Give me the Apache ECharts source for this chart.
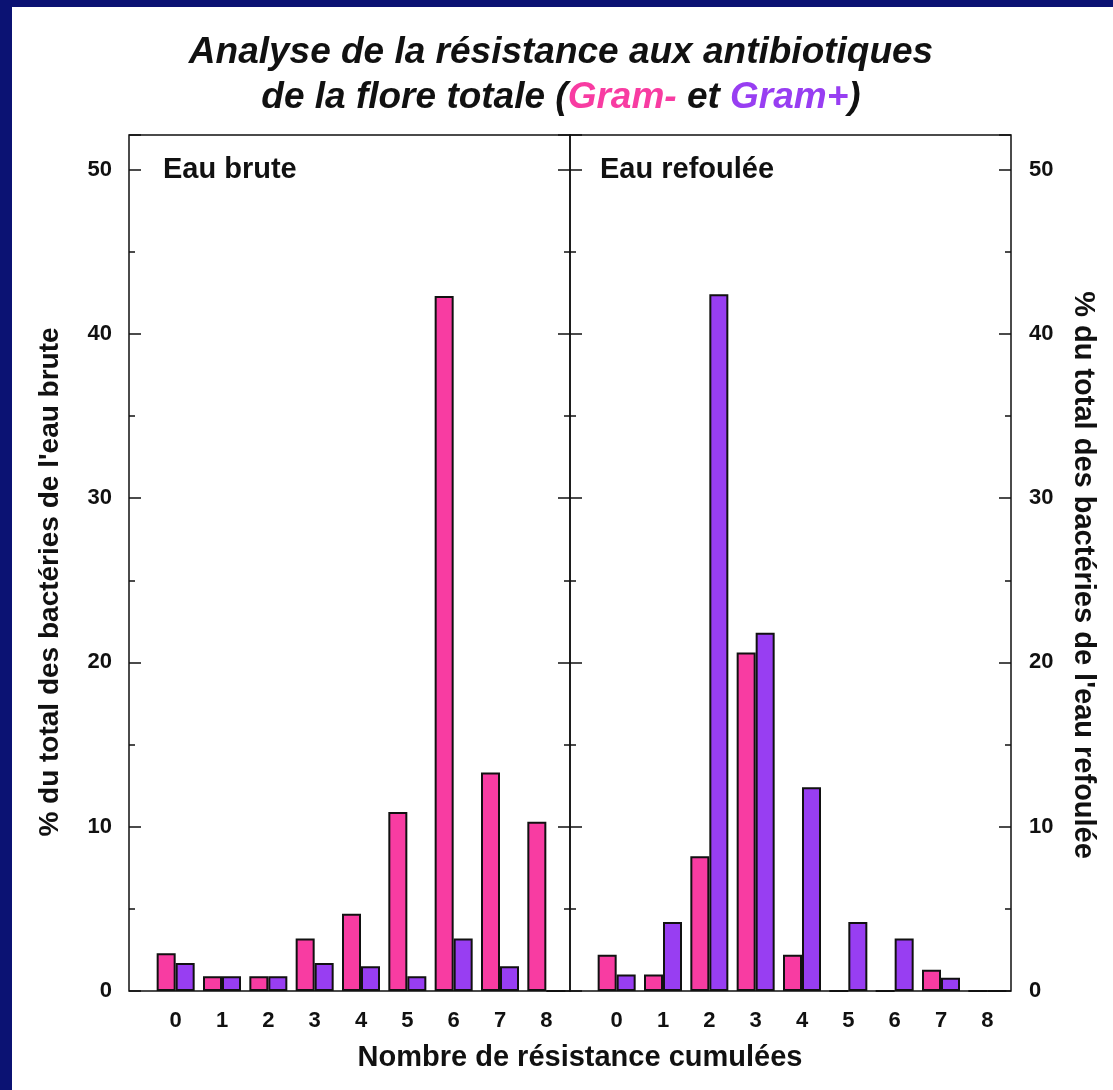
<!DOCTYPE html>
<html>
<head>
<meta charset="utf-8">
<script src="https://cdn.jsdelivr.net/npm/echarts@6/dist/echarts.min.js"></script>
<style>
  html, body { margin: 0; padding: 0; background: #fff; }
  .wrap {
    width: 1101px;
    height: 1083px;
    border-left: 12px solid #0b1273;
    border-top: 7px solid #0b1273;
  }
  #chart { width: 1101px; height: 1083px; background: #fff; }
</style>
</head>
<body>
<div class="wrap"><div id="chart"></div></div>
<script>
// nombre de résistances cumulées
const categories = ['0', '1', '2', '3', '4', '5', '6', '7', '8'];

// eau brute (% du total)
const bruteGramNeg = [2.3, 0.9, 0.9, 3.2, 4.7, 10.9, 42.3, 13.3, 10.3];
const bruteGramPos = [1.7, 0.9, 0.9, 1.7, 1.5, 0.9, 3.2, 1.5, 0];

// eau refoulée (% du total)
const refouleeGramNeg = [2.2, 1.0, 8.2, 20.6, 2.2, 0, 0, 1.3, 0];
const refouleeGramPos = [1.0, 4.2, 42.4, 21.8, 12.4, 4.2, 3.2, 0.8, 0];

const yTicks = [0, 10, 20, 30, 40, 50];

const pink = '#f83ca2';
const purple = '#983ef2';
const font = '"Liberation Sans", Arial, Helvetica, sans-serif';
const YMAX = 52.1;

let myChart = echarts.init(document.getElementById('chart'));

function tickAxis(grid, pos, interval, len, extra) {
  return Object.assign({
    type: 'value',
    gridIndex: grid,
    position: pos,
    min: 0,
    max: YMAX,
    interval: interval,
    axisLine: { show: false },
    axisTick: { show: true, inside: true, length: len, lineStyle: { color: '#111', width: 1.5 } },
    axisLabel: { show: false },
    splitLine: { show: false }
  }, extra || {});
}

const labelStyle = {
  show: true,
  fontFamily: font,
  fontWeight: 'bold',
  fontSize: 22,
  color: '#111',
  formatter: function(v){
    return yTicks.indexOf(v) >= 0 ? String(v) : '';
  }
};

function barSeries(name, data, color, xi, yi) {
  return {
    name: name,
    type: 'bar',
    xAxisIndex: xi,
    yAxisIndex: yi,
    data: data,
    barWidth: 19,
    barGap: '0%',
    itemStyle: { color: color, borderColor: '#111', borderWidth: 2 }
  };
}

const titleFont = { fontFamily: font, fontWeight: 'bold', fontStyle: 'italic', fontSize: 37, lineHeight: 45 };

let option = {
  animation: false,
  title: [
    {
      text: '{b|Analyse de la résistance aux antibiotiques}\n{b|de la flore totale (}{p|Gram-}{b| et }{v|Gram+}{b|)}',
      left: 549,
      top: 23,
      padding: 0,
      textAlign: 'center',
      textStyle: {
        rich: {
          b: Object.assign({ color: '#111' }, titleFont),
          p: Object.assign({ color: pink }, titleFont),
          v: Object.assign({ color: purple }, titleFont)
        }
      }
    },
    {
      text: 'Eau brute',
      left: 151,
      top: 148,
      padding: 0,
      textStyle: { fontFamily: font, fontWeight: 'bold', fontSize: 29, color: '#111' }
    },
    {
      text: 'Eau refoulée',
      left: 588,
      top: 148,
      padding: 0,
      textStyle: { fontFamily: font, fontWeight: 'bold', fontSize: 29, color: '#111' }
    },
    {
      text: 'Nombre de résistance cumulées',
      left: 568,
      top: 1036,
      padding: 0,
      textAlign: 'center',
      textStyle: { fontFamily: font, fontWeight: 'bold', fontSize: 29, color: '#111' }
    }
  ],
  graphic: [
    {
      type: 'text',
      x: 38,
      y: 575,
      rotation: Math.PI / 2,
      style: {
        text: "% du total des bactéries de l'eau brute",
        font: 'bold 28px ' + font,
        fill: '#111',
        textAlign: 'center',
        textVerticalAlign: 'middle'
      }
    },
    {
      type: 'text',
      x: 1071,
      y: 568,
      rotation: -Math.PI / 2,
      style: {
        text: "% du total des bactéries de l'eau refoulée",
        font: 'bold 29px ' + font,
        fill: '#111',
        textAlign: 'center',
        textVerticalAlign: 'middle'
      }
    }
  ],
  grid: [
    // cadres
    { left: 117, top: 128, width: 441, height: 856, show: true, borderColor: '#111', borderWidth: 1.5, backgroundColor: 'transparent' },
    { left: 558, top: 128, width: 441, height: 856, show: true, borderColor: '#111', borderWidth: 1.5, backgroundColor: 'transparent' },
    // barres
    { left: 140.5, top: 128, width: 417, height: 856 },
    { left: 581.5, top: 128, width: 417, height: 856 }
  ],
  xAxis: [
    { type: 'value', gridIndex: 0, min: 0, max: 1, show: false },
    { type: 'value', gridIndex: 1, min: 0, max: 1, show: false },
    {
      type: 'category', gridIndex: 2, data: categories,
      axisLine: { show: false }, axisTick: { show: false },
      axisLabel: { fontFamily: font, fontWeight: 'bold', fontSize: 22, color: '#111', margin: 19 }
    },
    {
      type: 'category', gridIndex: 3, data: categories,
      axisLine: { show: false }, axisTick: { show: false },
      axisLabel: { fontFamily: font, fontWeight: 'bold', fontSize: 22, color: '#111', margin: 19 }
    }
  ],
  yAxis: [
    tickAxis(0, 'left', 10, 12, { axisLabel: Object.assign({ margin: 17 }, labelStyle) }),
    tickAxis(0, 'left', 5, 6),
    tickAxis(0, 'right', 10, 12),
    tickAxis(0, 'right', 5, 6),
    tickAxis(1, 'left', 10, 12),
    tickAxis(1, 'left', 5, 6),
    tickAxis(1, 'right', 10, 12, { axisLabel: Object.assign({ margin: 18 }, labelStyle) }),
    tickAxis(1, 'right', 5, 6),
    { type: 'value', gridIndex: 2, min: 0, max: YMAX, show: false },
    { type: 'value', gridIndex: 3, min: 0, max: YMAX, show: false }
  ],
  series: [
    barSeries('Gram-', bruteGramNeg, pink, 2, 8),
    barSeries('Gram+', bruteGramPos, purple, 2, 8),
    barSeries('Gram-', refouleeGramNeg, pink, 3, 9),
    barSeries('Gram+', refouleeGramPos, purple, 3, 9)
  ]
};
myChart.setOption(option);
</script>
</body>
</html>
